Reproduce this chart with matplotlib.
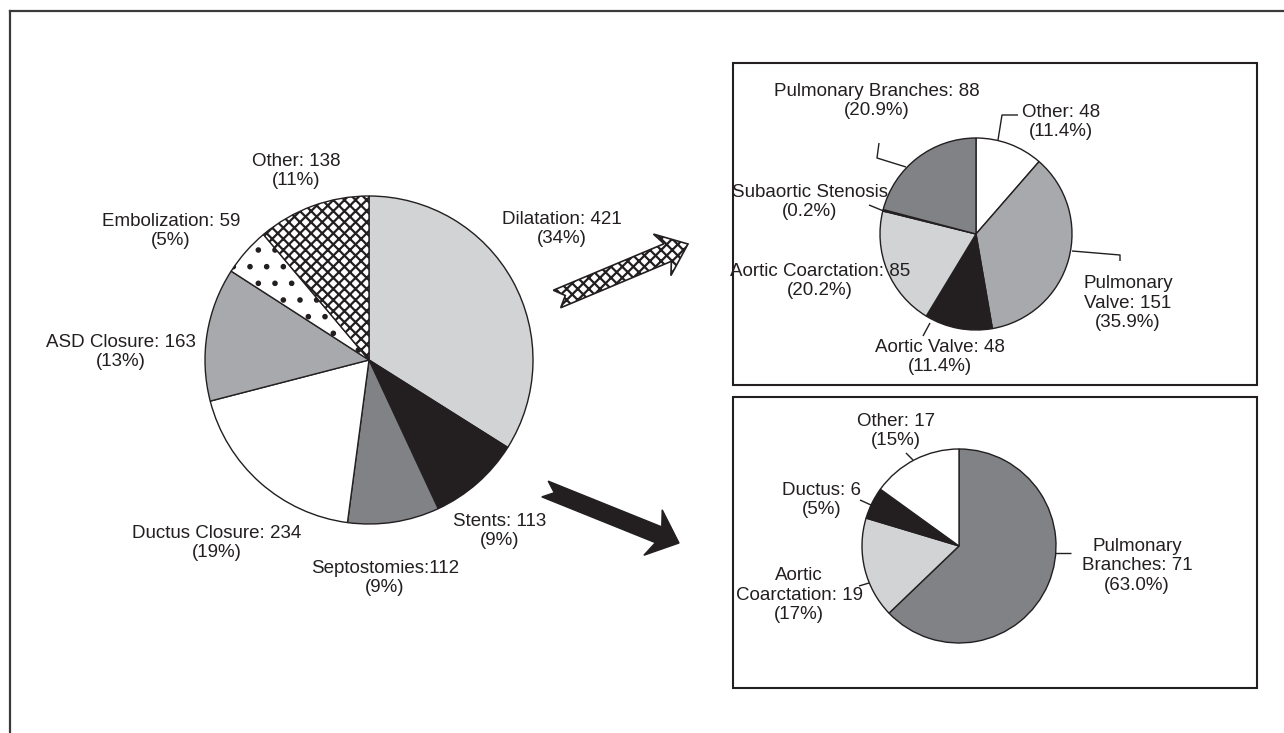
import matplotlib
matplotlib.use("Agg")
import matplotlib.pyplot as plt
import matplotlib.patches as mpatches
import numpy as np

W, H = 1284, 733
INK = "#231f20"
LIGHT = "#d1d3d4"
MID = "#a7a9ac"
DARK = "#808285"

plt.rcParams['font.family'] = ['Liberation Sans', 'DejaVu Sans']
plt.rcParams['hatch.linewidth'] = 1.6
plt.rcParams['hatch.color'] = INK

# ---- data -------------------------------------------------------------
main_names = ["Dilatation", "Stents", "Septostomies", "Ductus Closure",
              "ASD Closure", "Embolization", "Other"]
main_values = [421, 113, 112, 234, 163, 59, 138]
main_pct = ["34%", "9%", "9%", "19%", "13%", "5%", "11%"]

dil_names = ["Other", "Pulmonary Valve", "Aortic Valve", "Aortic Coarctation",
             "Subaortic Stenosis", "Pulmonary Branches"]
dil_values = [48, 151, 48, 85, 1, 88]
dil_pct = ["11.4%", "35.9%", "11.4%", "20.2%", "0.2%", "20.9%"]

stent_names = ["Pulmonary Branches", "Aortic Coarctation", "Ductus", "Other"]
stent_values = [71, 19, 6, 17]
stent_pct = ["63.0%", "17%", "5%", "15%"]

# ---- figure -----------------------------------------------------------
fig = plt.figure(figsize=(W / 100, H / 100), dpi=100)
ax = fig.add_axes([0, 0, 1, 1])


def Y(y):
    return H - y


def pie(values, colors, cx, cy, r):
    wedges, _ = ax.pie(values, colors=colors, startangle=90, counterclock=False,
                       center=(cx, Y(cy)), radius=r,
                       wedgeprops=dict(edgecolor=INK, linewidth=1.0))
    return wedges


def label(x, y, s):
    ax.text(x, Y(y), s, ha='center', va='center', fontsize=13.5, color=INK,
            linespacing=1.2)


def leader(pts):
    xs = [p[0] for p in pts]
    ys = [Y(p[1]) for p in pts]
    ax.plot(xs, ys, color=INK, lw=1.0, solid_capstyle='butt')


def arrow(x0, y0, x1, y1, shaft, head_w, head_l, notch, **kw):
    p0 = np.array([x0, Y(y0)])
    p1 = np.array([x1, Y(y1)])
    d = p1 - p0
    u = d / np.hypot(*d)
    n = np.array([-u[1], u[0]])
    b = p1 - u * head_l
    pts = [p0 + n * shaft / 2, b + n * shaft / 2, b - u * 6 + n * head_w / 2, p1,
           b - u * 6 - n * head_w / 2, b - n * shaft / 2, p0 - n * shaft / 2, p0 + u * notch]
    ax.add_patch(mpatches.Polygon(pts, closed=True, **kw))


# main pie
main_colors = [LIGHT, INK, DARK, "white", MID, "white", "white"]
w = pie(main_values, main_colors, 369, 360, 164)
w[5].set_hatch('.')
w[6].set_hatch('xxx')

main_pos = [(562, 229), (500, 531), (385, 578), (217, 543), (121, 352), (171, 231), (296, 171)]
for name, v, p, (x, y) in zip(main_names, main_values, main_pct, main_pos):
    sep = ":" if name == "Septostomies" else ": "
    label(x, y, f"{name}{sep}{v}\n({p})")

# dilatation breakdown
ax.add_patch(mpatches.Rectangle((733, Y(385)), 1257 - 733, 385 - 63, fill=False,
                                edgecolor=INK, lw=1.5))
dil_colors = ["white", MID, INK, LIGHT, INK, DARK]
pie(dil_values, dil_colors, 976, 234, 96)
dil_pos = [(1061, 122), (1128, 303), (940, 357), (820, 281), (810, 202), (877, 101)]
dil_text = [
    f"{dil_names[0]}: {dil_values[0]}\n({dil_pct[0]})",
    f"Pulmonary\nValve: {dil_values[1]}\n({dil_pct[1]})",
    f"{dil_names[2]}: {dil_values[2]}\n({dil_pct[2]})",
    f"{dil_names[3]}: {dil_values[3]}\n({dil_pct[3]})",
    f"{dil_names[4]}\n({dil_pct[4]})",
    f"{dil_names[5]}: {dil_values[5]}\n({dil_pct[5]})",
]
for (x, y), s in zip(dil_pos, dil_text):
    label(x, y, s)
leader([(1018, 115), (1002, 115), (998, 140)])
leader([(1072, 251), (1120, 255), (1120, 261)])
leader([(923, 336), (930, 323)])
leader([(869, 205), (886, 212)])
leader([(879, 143), (877, 158), (906, 167)])

# stents breakdown
ax.add_patch(mpatches.Rectangle((733, Y(688)), 1257 - 733, 688 - 397, fill=False,
                                edgecolor=INK, lw=1.5))
stent_colors = [DARK, LIGHT, INK, "white"]
pie(stent_values, stent_colors, 959, 546, 97)
stent_pos = [(1137, 566), (799, 595), (822, 500), (896, 431)]
stent_text = [
    f"Pulmonary\nBranches: {stent_values[0]}\n({stent_pct[0]})",
    f"Aortic\nCoarctation: {stent_values[1]}\n({stent_pct[1]})",
    f"{stent_names[2]}: {stent_values[2]}\n({stent_pct[2]})",
    f"{stent_names[3]}: {stent_values[3]}\n({stent_pct[3]})",
]
for (x, y), s in zip(stent_pos, stent_text):
    label(x, y, s)
leader([(1055, 553), (1071, 553)])
leader([(859, 586), (869, 583)])
leader([(860, 500), (871, 505)])
leader([(906, 453), (913, 460)])

# arrows
arrow(557, 299, 688, 244, 19, 45, 22, 9, facecolor="white", edgecolor=INK,
      hatch='xxx', lw=1.2)
arrow(545, 489, 679, 543, 17, 49, 22, 10, facecolor=INK, edgecolor=INK, lw=1.0)

# outer frame (top and left only)
ax.plot([10, W], [Y(11), Y(11)], color="#3a3a3a", lw=1.6)
ax.plot([10, 10], [Y(11), 0], color="#3a3a3a", lw=1.6)

ax.set_xlim(0, W)
ax.set_ylim(0, H)
ax.set_aspect('equal')
ax.axis('off')

fig.savefig("out.png", dpi=100)
